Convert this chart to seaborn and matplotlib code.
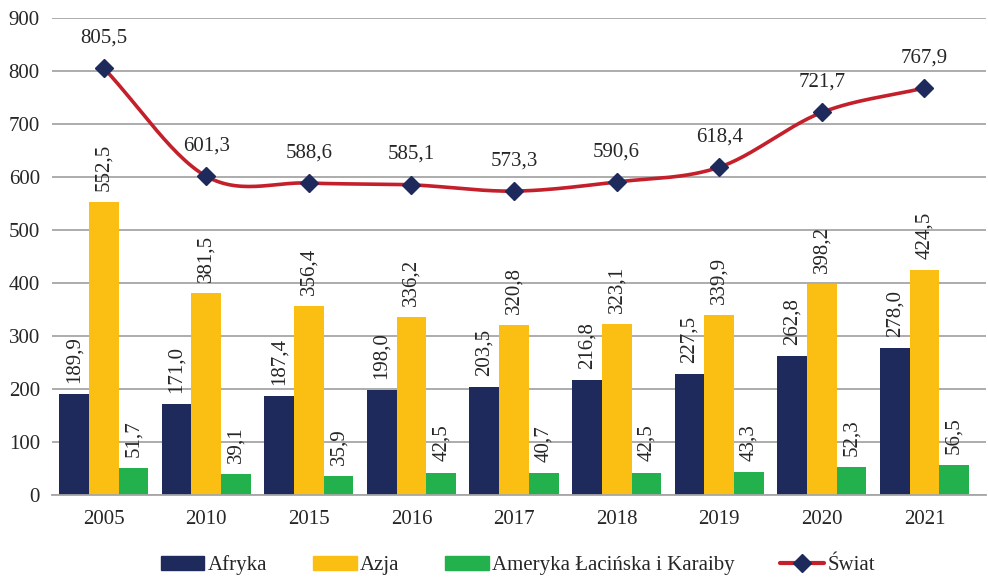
import seaborn as sns
import matplotlib.pyplot as plt
import matplotlib.lines as mlines
import matplotlib.patches as mpatches
import pandas as pd
import numpy as np

years = ["2005", "2010", "2015", "2016", "2017", "2018", "2019", "2020", "2021"]
afryka = [189.9, 171.0, 187.4, 198.0, 203.5, 216.8, 227.5, 262.8, 278.0]
azja = [552.5, 381.5, 356.4, 336.2, 320.8, 323.1, 339.9, 398.2, 424.5]
ameryka = [51.7, 39.1, 35.9, 42.5, 40.7, 42.5, 43.3, 52.3, 56.5]
swiat = [805.5, 601.3, 588.6, 585.1, 573.3, 590.6, 618.4, 721.7, 767.9]

series = ["Afryka", "Azja", "Ameryka Łacińska i Karaiby"]
colors = ["#1e295c", "#fbbf14", "#22b14c"]
red = "#c4202b"
navy = "#1e295c"
txt = "#262626"

df = pd.concat([
    pd.DataFrame({"Rok": years, "Wartość": afryka, "Region": series[0]}),
    pd.DataFrame({"Rok": years, "Wartość": azja, "Region": series[1]}),
    pd.DataFrame({"Rok": years, "Wartość": ameryka, "Region": series[2]}),
])

sns.set_style("white")
plt.rcParams["font.family"] = ["Liberation Serif", "DejaVu Serif"]

fig = plt.figure(figsize=(9.88, 5.77), dpi=100)
ax = fig.add_axes([0.053, 0.142, 0.945, 0.827])

sns.barplot(data=df, x="Rok", y="Wartość", hue="Region", palette=colors,
            width=0.87, gap=0, ax=ax, legend=False, saturation=1, errorbar=None,
            linewidth=0)

def fmt(v):
    return f"{v:.1f}".replace(".", ",")

for cont in ax.containers:
    ax.bar_label(cont, labels=[fmt(b.get_height()) for b in cont],
                 rotation=90, padding=8, fontsize=15, color=txt)

# smooth line (Catmull-Rom, like Excel smoothed lines)
x = np.arange(len(swiat), dtype=float)
y = np.array(swiat)
px = np.concatenate([[2 * x[0] - x[1]], x, [2 * x[-1] - x[-2]]])
py = np.concatenate([[2 * y[0] - y[1]], y, [2 * y[-1] - y[-2]]])
xs, ys = [], []
t = np.linspace(0, 1, 30)
for i in range(1, len(px) - 2):
    p0, p1, p2, p3 = [np.array([px[j], py[j]]) for j in range(i - 1, i + 3)]
    for tt in t:
        pt = 0.5 * ((2 * p1) + (-p0 + p2) * tt + (2 * p0 - 5 * p1 + 4 * p2 - p3) * tt**2
                    + (-p0 + 3 * p1 - 3 * p2 + p3) * tt**3)
        xs.append(pt[0]); ys.append(pt[1])
ax.plot(xs, ys, color=red, lw=2.6, zorder=4)
ax.plot(x, y, ls="none", marker="D", ms=9, color=navy, zorder=5)
for xi, yi in zip(x, y):
    ax.annotate(fmt(yi), (xi, yi), xytext=(0, 15), textcoords="offset points",
                ha="center", va="bottom", fontsize=15, color=txt)

ax.set_ylim(0, 900)
ax.set_xlim(-0.5, 8.6)
ax.set_yticks(range(0, 901, 100))
ax.yaxis.grid(True, color="#a6a6a6", lw=1.3)
ax.set_axisbelow(True)
for s in ["top", "right", "left"]:
    ax.spines[s].set_visible(False)
ax.spines["bottom"].set_color("#a6a6a6")
ax.spines["bottom"].set_linewidth(1.3)
ax.tick_params(axis="both", length=0, labelsize=15, colors=txt)
ax.tick_params(axis="y", pad=9)
ax.tick_params(axis="x", pad=11)
ax.set_xlabel("")
ax.set_ylabel("")

handles = [mpatches.Patch(color=c, label=s) for c, s in zip(colors, series)]
handles.append(mlines.Line2D([], [], color=red, lw=3, marker="D", ms=9,
                             markerfacecolor=navy, markeredgecolor=navy, label="Świat"))
fig.legend(handles=handles, loc="center", ncol=4, frameon=False,
           bbox_to_anchor=(0.524, 0.02), fontsize=15, handlelength=2.1,
           handleheight=0.6, columnspacing=2.2, handletextpad=0.15)

plt.savefig("out.png", dpi=100)
